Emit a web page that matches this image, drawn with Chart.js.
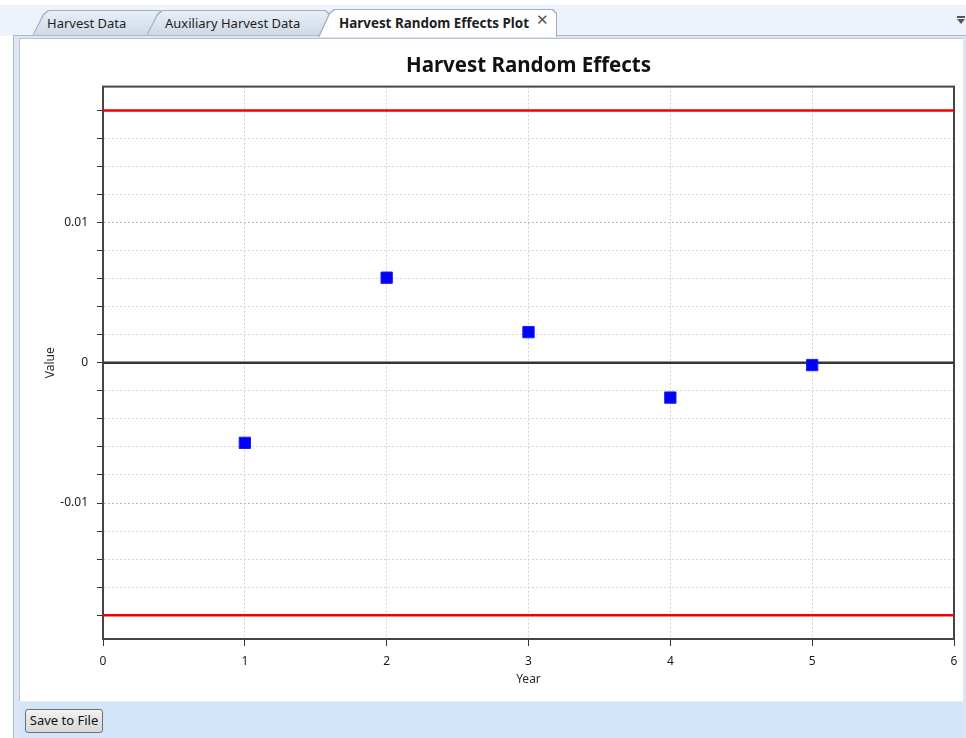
<!DOCTYPE html>
<html>
<head>
<meta charset="utf-8">
<title>Harvest Random Effects</title>
<script src="https://cdn.jsdelivr.net/npm/chart.js@4.4.1/dist/chart.umd.min.js"></script>
<style>
  html, body { margin: 0; padding: 0; width: 966px; height: 738px; overflow: hidden; background: #fff; font-family: "Noto Sans", sans-serif; }
  .strip { position: absolute; left: 0; top: 5px; width: 966px; height: 31px; background: #eef2fa; }
  .tab { position: absolute; top: 10px; height: 26px; background: #9fb0c6; }
  .tab .fill { position: absolute; left: 1px; top: 1px; right: 1px; bottom: 0; background: linear-gradient(#eaeff7, #cdd8e6); }
  .tab, .tab .fill { clip-path: polygon(0 100%, 11px 4px, 16px 0, calc(100% - 4px) 0, 100% 4px, 100% 100%); }
  .tab span { position: absolute; top: 4px; font-size: 13px; color: #1e1e1e; white-space: nowrap; }
  .tab.active { top: 9px; height: 28px; }
  .tab.active .fill { background: #fff; bottom: -1px; }
  .tab.active span { font-weight: bold; font-size: 13.4px; top: 5px; }
  .close { position: absolute; left: 536px; top: 11px; font-family: "DejaVu Sans", sans-serif; font-size: 15px; color: #555; }
  .panel { position: absolute; left: 13px; top: 35px; width: 952px; height: 703px; background: #dde6f2; border-left: 1px solid #aab8cb; border-top: 1px solid #aab8cb; border-right: 1px solid #aab8cb; }
  .inner { position: absolute; left: 19px; top: 38px; width: 944px; height: 700px; background: #fff; border-left: 1px solid #b7c3d3; border-top: 1px solid #b7c3d3; box-sizing: border-box; }
  .chart-box { position: absolute; left: 19px; top: 38px; width: 944px; height: 663px; }
  .bottom-bar { position: absolute; left: 19px; top: 701px; width: 944px; height: 37px; background: #d3e5f8; border-top: 1px solid #e4eefa; box-sizing: border-box; }
  .btn { position: absolute; left: 25px; top: 709px; width: 78px; height: 24px; box-sizing: border-box; border: 1px solid #707070; border-radius: 3px; background: linear-gradient(#f3f3f3, #e3e3e3 50%, #d9d9d9); font-size: 13px; color: #111; text-align: center; line-height: 21px; }
  .menu-bar { position: absolute; left: 957px; top: 16px; width: 8px; height: 2px; background: #555; }
  .menu-tri { position: absolute; left: 957px; top: 19px; width: 0; height: 0; border-left: 4px solid transparent; border-right: 4px solid transparent; border-top: 5px solid #555; }
</style>
</head>
<body>
<div class="strip"></div>
<div class="tab" style="left:32px; width:132px;"><div class="fill"></div><span style="left:15px;">Harvest Data</span></div>
<div class="tab" style="left:146px; width:184px;"><div class="fill"></div><span style="left:19px;">Auxiliary Harvest Data</span></div>
<div class="menu-bar"></div><div class="menu-tri"></div>
<div class="panel"></div>
<div class="inner"></div>
<div class="tab active" style="left:318px; width:239px;"><div class="fill"></div><span style="left:21px;">Harvest Random Effects Plot</span></div>
<div class="close">✕</div>
<div class="chart-box"><canvas id="effectsChart"></canvas></div>
<div class="bottom-bar"></div>
<div class="btn">Save to File</div>

<script>
// Random effect per year
const years = [1, 2, 3, 4, 5];
const effects = [-0.00571, 0.00607, 0.00219, -0.00248, -0.00016];

// Red limit lines and axis ranges
const limitValue = 0.018;
const xRange = [0, 6];
const yRange = [-0.0197, 0.0197];

// Minor ticks every 0.002, labels only on the majors
const yTickValues = [-0.018, -0.016, -0.014, -0.012, -0.01, -0.008, -0.006, -0.004, -0.002, 0,
  0.002, 0.004, 0.006, 0.008, 0.01, 0.012, 0.014, 0.016, 0.018];
const yTickLabels = [-0.01, 0, 0.01];

const isLabelled = v => yTickLabels.some(l => Math.abs(l - v) < 1e-9);

// frame around the plot area (top and right sides included)
const framePlugin = {
  id: "plotFrame",
  beforeDatasetsDraw(chart) {
    const { ctx, chartArea: a } = chart;
    ctx.save();
    ctx.strokeStyle = "#454545";
    ctx.lineWidth = 2;
    ctx.strokeRect(a.left, a.top, a.right - a.left, a.bottom - a.top);
    ctx.restore();
  }
};

const tickFont = { family: "Noto Sans", size: 12 };

new Chart(document.getElementById("effectsChart").getContext("2d"), {
  type: "scatter",
  data: {
    datasets: [{
      label: "Random effect",
      data: years.map((y, i) => ({ x: y, y: effects[i] })),
      pointStyle: "rect",
      pointRadius: 8,
      backgroundColor: "#0000ff",
      borderColor: "#1a1aff",
      borderWidth: 1
    }, {
      label: "Upper limit",
      data: xRange.map(x => ({ x: x, y: limitValue })),
      showLine: true,
      borderColor: "#f00000",
      borderWidth: 2.5,
      pointRadius: 0
    }, {
      label: "Lower limit",
      data: xRange.map(x => ({ x: x, y: -limitValue })),
      showLine: true,
      borderColor: "#f00000",
      borderWidth: 2.5,
      pointRadius: 0
    }, {
      label: "Zero",
      data: xRange.map(x => ({ x: x, y: 0 })),
      showLine: true,
      borderColor: "#353535",
      borderWidth: 2.5,
      pointRadius: 0
    }]
  },
  options: {
    responsive: true,
    maintainAspectRatio: false,
    animation: false,
    layout: {
      padding: { left: 24, right: 8, top: 0, bottom: 14 }
    },
    plugins: {
      legend: { display: false },
      title: {
        display: true,
        fullSize: false,
        text: "Harvest Random Effects",
        color: "#111",
        font: { family: "Noto Sans", size: 20.5, weight: "bold" },
        padding: { top: 16, bottom: 8 }
      }
    },
    scales: {
      x: {
        type: "linear",
        min: xRange[0],
        max: xRange[1],
        afterFit: scale => {
          scale.height = 48;
          scale.paddingLeft = 0;
          scale.paddingRight = 0;
        },
        ticks: {
          stepSize: 1,
          color: "#1b1b1b",
          font: tickFont,
          padding: 8
        },
        grid: {
          color: ctx => (ctx.tick && (ctx.tick.value === xRange[0] || ctx.tick.value === xRange[1])) ? "transparent" : "#d2d2d2",
          tickColor: "#333",
          tickLength: 7
        },
        border: { color: "#454545", width: 2, dash: [2, 2] },
        title: {
          display: true,
          text: "Year",
          color: "#2a2a2a",
          font: tickFont,
          padding: 0
        }
      },
      y: {
        type: "linear",
        min: yRange[0],
        max: yRange[1],
        afterBuildTicks: scale => { scale.ticks = yTickValues.map(v => ({ value: v })); },
        afterFit: scale => { scale.width = 60; },
        ticks: {
          color: "#1b1b1b",
          font: tickFont,
          padding: 9,
          autoSkip: false,
          callback: value => isLabelled(value) ? String(value) : ""
        },
        grid: {
          color: ctx => {
            const v = ctx.tick ? ctx.tick.value : 1;
            if (Math.abs(v) < 1e-9) return "transparent";
            return isLabelled(v) ? "#b8b8b8" : "#d6d6d6";
          },
          tickColor: "#333",
          tickLength: 6
        },
        border: { color: "#454545", width: 2, dash: [2, 2] },
        title: {
          display: true,
          text: "Value",
          color: "#2a2a2a",
          font: tickFont,
          padding: 0
        }
      }
    }
  },
  plugins: [framePlugin]
});
</script>
</body>
</html>
